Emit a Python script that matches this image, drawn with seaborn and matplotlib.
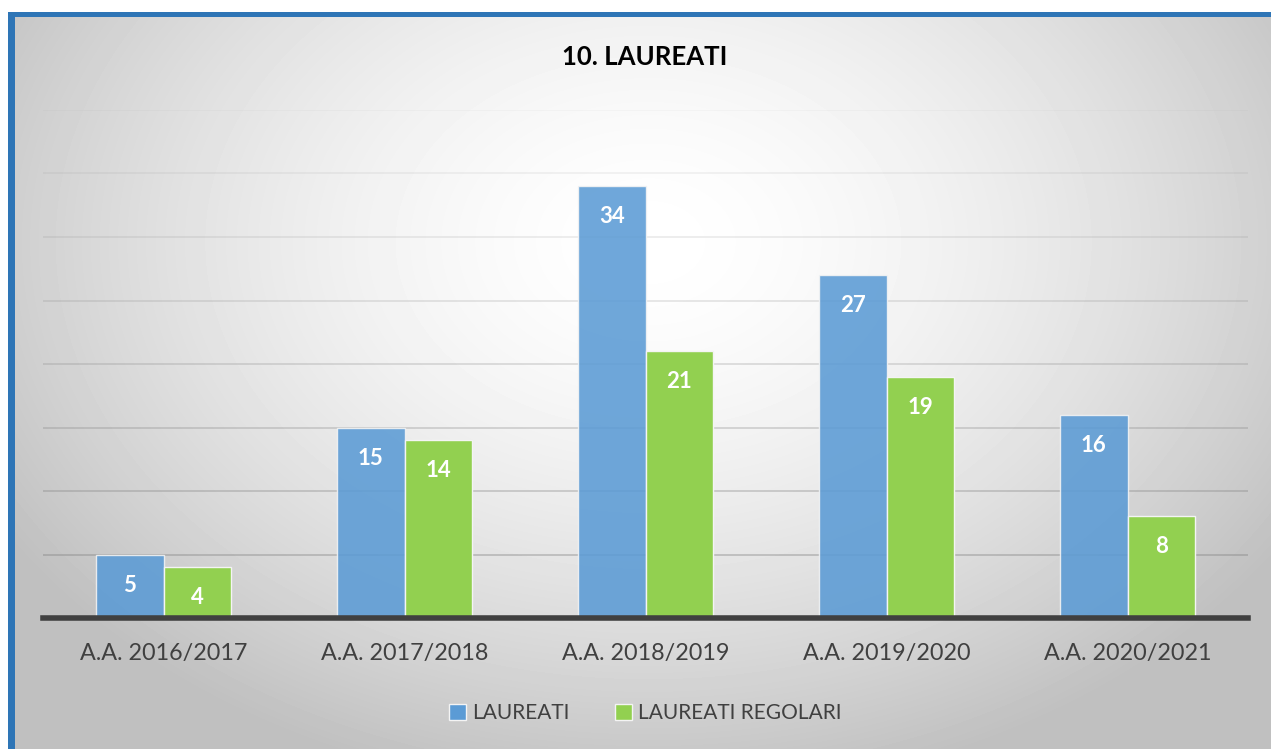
import numpy as np
import pandas as pd
import matplotlib
matplotlib.use('Agg')
import matplotlib.pyplot as plt
from matplotlib.patches import Rectangle
import seaborn as sns

# Data
anni = ['A.A. 2016/2017', 'A.A. 2017/2018', 'A.A. 2018/2019', 'A.A. 2019/2020', 'A.A. 2020/2021']
laureati = [5, 15, 34, 27, 16]
laureati_regolari = [4, 14, 21, 19, 8]
serie = ['LAUREATI', 'LAUREATI REGOLARI']
colori = ['#5B9BD5', '#92D050']

df = pd.DataFrame({
    'Anno': anni * 2,
    'Valore': laureati + laureati_regolari,
    'Serie': [serie[0]] * len(anni) + [serie[1]] * len(anni),
})

sns.set_theme(style='white')
plt.rcParams['font.family'] = ['Lato', 'DejaVu Sans']

W, H = 1271, 749
fig = plt.figure(figsize=(W / 100, H / 100), dpi=100)
fig.patch.set_facecolor('white')

# radial gradient background (Excel style)
bg = fig.add_axes([8 / W, 0, (W - 8) / W, (H - 12) / H], zorder=0)
yy, xx = np.mgrid[0:H - 12, 0:W - 8]
d = np.sqrt(((xx - 640) / 760.0) ** 2 + ((yy - 230) / 560.0) ** 2)
d = np.clip(d, 0, 1)
val = 1.0 - 0.25 * d ** 1.6
bg.imshow(val, cmap='gray', vmin=0, vmax=1, aspect='auto', interpolation='bilinear')
bg.axis('off')

# blue border on top and left
fig.patches.append(Rectangle((8 / W, 0), 7 / W, (H - 12) / H, transform=fig.transFigure,
                             facecolor='#2E75B6', edgecolor='none', zorder=5))
fig.patches.append(Rectangle((8 / W, (H - 17) / H), (W - 8) / W, 5 / H, transform=fig.transFigure,
                             facecolor='#2E75B6', edgecolor='none', zorder=5))

ax = fig.add_axes([43 / W, (H - 618) / H, (1248 - 43) / W, (618 - 110) / H], zorder=2)
ax.patch.set_alpha(0)

sns.barplot(data=df, x='Anno', y='Valore', hue='Serie', palette=colori, saturation=1,
            width=0.56, edgecolor='#f4f4f4', linewidth=1, ax=ax, zorder=3)
# blue bars are slightly see-through in the original
for bar in ax.containers[0]:
    bar.set_alpha(0.88)

ax.set_ylim(0, 40)
ax.set_yticks(np.arange(0, 41, 5))
ax.set_yticklabels([])
ax.tick_params(axis='y', length=0)
ax.tick_params(axis='x', length=0, pad=18, labelsize=16.8, labelcolor='#404040')
ax.set_xlabel('')
ax.set_ylabel('')
ax.grid(axis='y', color='#7f7f7f', linewidth=1.3, zorder=1)
ax.set_axisbelow(True)
gl = ax.get_ygridlines()
for i, line in enumerate(gl):
    line.set_alpha(0.45 - 0.4 * i / (len(gl) - 1))
for s in ['top', 'right', 'left']:
    ax.spines[s].set_visible(False)
ax.spines['bottom'].set_color('#404040')
ax.spines['bottom'].set_linewidth(4)
ax.spines['bottom'].set_zorder(4)

for cont in ax.containers:
    for bar, v in zip(cont, cont.datavalues):
        ax.annotate(f'{int(v)}', (bar.get_x() + bar.get_width() / 2, bar.get_height()),
                    xytext=(0, -22), textcoords='offset points', ha='center', va='center',
                    color='white', fontsize=16, fontweight='bold', zorder=5)

leg = ax.legend(loc='upper center', bbox_to_anchor=(0.5, -0.13), ncol=2, frameon=False,
                fontsize=15, handlelength=0.8, handleheight=0.8, columnspacing=2.2,
                handletextpad=0.3, labelcolor='#404040')

fig.text(645 / W, 1 - 57 / H, '10. LAUREATI', ha='center', va='center', fontsize=18.5,
         fontweight='bold', color='black')

fig.savefig('out.png', dpi=100)
